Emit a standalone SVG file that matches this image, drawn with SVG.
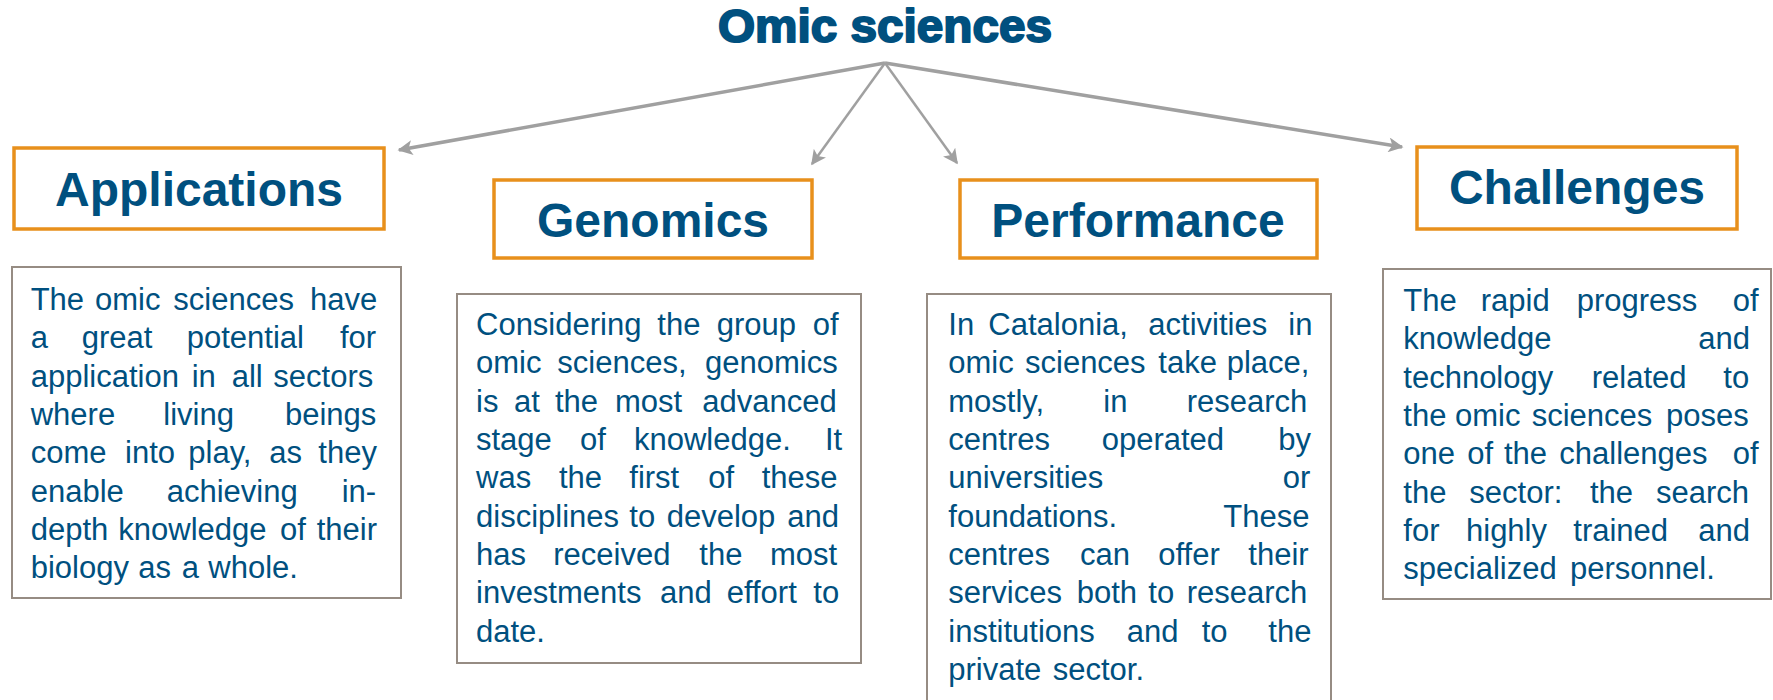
<svg xmlns="http://www.w3.org/2000/svg" width="1773" height="700" viewBox="0 0 1773 700">
<style>
.title{font-family:"Liberation Sans",Arial,sans-serif;font-weight:bold;fill:#00507F;}
.head{font-family:"Liberation Sans",Arial,sans-serif;font-weight:bold;font-size:48px;fill:#00507F;text-anchor:middle;}
.body{font-family:"Liberation Sans",Arial,sans-serif;font-size:31px;fill:#00507F;}
.hbox{fill:#FFFFFF;stroke:#E8901C;stroke-width:3.5;}
.dbox{fill:#FFFFFF;stroke:#968C83;stroke-width:2;}
.conn{stroke:#A0A0A0;fill:none;}
</style>
<defs>
<marker id="ah" viewBox="0 0 10 10" refX="9" refY="5" markerWidth="17" markerHeight="15" markerUnits="userSpaceOnUse" orient="auto">
<path d="M0,0 L10,5 L0,10 L2.5,5 z" fill="#A0A0A0"/>
</marker>
</defs>
<rect width="1773" height="700" fill="#FFFFFF"/>

<g id="title">
<text class="title" x="885" y="42" font-size="47" text-anchor="middle" stroke="#00507F" stroke-width="2" stroke-linejoin="round" textLength="334" lengthAdjust="spacingAndGlyphs">Omic sciences</text>
</g>

<g id="connectors">
<line class="conn" x1="885" y1="63" x2="399" y2="150" stroke-width="3.5" marker-end="url(#ah)"/>
<line class="conn" x1="885" y1="63" x2="812" y2="164" stroke-width="2.5" marker-end="url(#ah)"/>
<line class="conn" x1="885" y1="63" x2="957" y2="163" stroke-width="2.5" marker-end="url(#ah)"/>
<line class="conn" x1="885" y1="63" x2="1402" y2="147" stroke-width="3.5" marker-end="url(#ah)"/>
</g>

<g id="applications">
<rect class="hbox" x="14" y="148" width="370" height="81"/>
<text class="head" x="199" y="206">Applications</text>
</g>

<g id="genomics">
<rect class="hbox" x="494" y="180" width="318" height="78"/>
<text class="head" x="653" y="237">Genomics</text>
</g>

<g id="performance">
<rect class="hbox" x="960" y="180" width="357" height="78"/>
<text class="head" x="1138" y="237">Performance</text>
</g>

<g id="challenges">
<rect class="hbox" x="1417" y="147" width="320" height="82"/>
<text class="head" x="1577" y="204">Challenges</text>
</g>

<g id="applications-text">
<rect class="dbox" x="12" y="267" width="389" height="331"/>
<text class="body">
<tspan x="30.7" y="310">The</tspan><tspan x="95" y="310">omic</tspan><tspan x="173.3" y="310">sciences</tspan><tspan x="310" y="310">have</tspan>
<tspan x="30.7" y="348.3">a</tspan><tspan x="81.7" y="348.3">great</tspan><tspan x="186.7" y="348.3">potential</tspan><tspan x="340" y="348.3">for</tspan>
<tspan x="30.7" y="386.7">application</tspan><tspan x="191.7" y="386.7">in</tspan><tspan x="231.7" y="386.7">all</tspan><tspan x="273.3" y="386.7">sectors</tspan>
<tspan x="30.7" y="425">where</tspan><tspan x="163.3" y="425">living</tspan><tspan x="285" y="425">beings</tspan>
<tspan x="30.7" y="463.3">come</tspan><tspan x="125" y="463.3">into</tspan><tspan x="188.3" y="463.3">play,</tspan><tspan x="269.3" y="463.3">as</tspan><tspan x="318.3" y="463.3">they</tspan>
<tspan x="30.7" y="501.7">enable</tspan><tspan x="166.7" y="501.7">achieving</tspan><tspan x="341.7" y="501.7">in-</tspan>
<tspan x="30.7" y="540">depth</tspan><tspan x="118.3" y="540">knowledge</tspan><tspan x="280" y="540">of</tspan><tspan x="316.7" y="540">their</tspan>
<tspan x="30.7" y="578.3">biology</tspan><tspan x="138.3" y="578.3">as</tspan><tspan x="181.7" y="578.3">a</tspan><tspan x="208.3" y="578.3">whole.</tspan>
</text>
</g>

<g id="genomics-text">
<rect class="dbox" x="457" y="294" width="404" height="369"/>
<text class="body">
<tspan x="476" y="335">Considering</tspan><tspan x="657.3" y="335">the</tspan><tspan x="716.7" y="335">group</tspan><tspan x="812.7" y="335">of</tspan>
<tspan x="476" y="373.3">omic</tspan><tspan x="557.3" y="373.3">sciences,</tspan><tspan x="705" y="373.3">genomics</tspan>
<tspan x="476" y="411.7">is</tspan><tspan x="514" y="411.7">at</tspan><tspan x="555" y="411.7">the</tspan><tspan x="615" y="411.7">most</tspan><tspan x="702.3" y="411.7">advanced</tspan>
<tspan x="476" y="450">stage</tspan><tspan x="580" y="450">of</tspan><tspan x="634" y="450">knowledge.</tspan><tspan x="825" y="450">It</tspan>
<tspan x="476" y="488.3">was</tspan><tspan x="559" y="488.3">the</tspan><tspan x="629.3" y="488.3">first</tspan><tspan x="708.3" y="488.3">of</tspan><tspan x="761.7" y="488.3">these</tspan>
<tspan x="476" y="526.7">disciplines</tspan><tspan x="629.3" y="526.7">to</tspan><tspan x="666.7" y="526.7">develop</tspan><tspan x="787.3" y="526.7">and</tspan>
<tspan x="476" y="565">has</tspan><tspan x="553.3" y="565">received</tspan><tspan x="699.3" y="565">the</tspan><tspan x="770" y="565">most</tspan>
<tspan x="476" y="603.3">investments</tspan><tspan x="660" y="603.3">and</tspan><tspan x="726.7" y="603.3">effort</tspan><tspan x="813.3" y="603.3">to</tspan>
<tspan x="476" y="641.7">date.</tspan>
</text>
</g>

<g id="performance-text">
<rect class="dbox" x="927" y="294" width="404" height="420"/>
<text class="body">
<tspan x="948.3" y="335">In</tspan><tspan x="988.3" y="335">Catalonia,</tspan><tspan x="1148.3" y="335">activities</tspan><tspan x="1288.3" y="335">in</tspan>
<tspan x="948.3" y="373.3">omic</tspan><tspan x="1025" y="373.3">sciences</tspan><tspan x="1158.3" y="373.3">take</tspan><tspan x="1226.7" y="373.3">place,</tspan>
<tspan x="948.3" y="411.7">mostly,</tspan><tspan x="1103.3" y="411.7">in</tspan><tspan x="1186.7" y="411.7">research</tspan>
<tspan x="948.3" y="450">centres</tspan><tspan x="1101.7" y="450">operated</tspan><tspan x="1278.3" y="450">by</tspan>
<tspan x="948.3" y="488.3">universities</tspan><tspan x="1282.7" y="488.3">or</tspan>
<tspan x="948.3" y="526.7">foundations.</tspan><tspan x="1223.3" y="526.7">These</tspan>
<tspan x="948.3" y="565">centres</tspan><tspan x="1080" y="565">can</tspan><tspan x="1158.3" y="565">offer</tspan><tspan x="1248.3" y="565">their</tspan>
<tspan x="948.3" y="603.3">services</tspan><tspan x="1076.7" y="603.3">both</tspan><tspan x="1148.3" y="603.3">to</tspan><tspan x="1186.7" y="603.3">research</tspan>
<tspan x="948.3" y="641.7">institutions</tspan><tspan x="1126.7" y="641.7">and</tspan><tspan x="1201.7" y="641.7">to</tspan><tspan x="1268.3" y="641.7">the</tspan>
<tspan x="948.3" y="680">private</tspan><tspan x="1052.7" y="680">sector.</tspan>
</text>
</g>

<g id="challenges-text">
<rect class="dbox" x="1383" y="269" width="388" height="330"/>
<text class="body">
<tspan x="1403.3" y="311">The</tspan><tspan x="1480.7" y="311">rapid</tspan><tspan x="1576.7" y="311">progress</tspan><tspan x="1732.7" y="311">of</tspan>
<tspan x="1403.3" y="349.3">knowledge</tspan><tspan x="1698.3" y="349.3">and</tspan>
<tspan x="1403.3" y="387.7">technology</tspan><tspan x="1591.7" y="387.7">related</tspan><tspan x="1723.3" y="387.7">to</tspan>
<tspan x="1403.3" y="426">the</tspan><tspan x="1455" y="426">omic</tspan><tspan x="1531.7" y="426">sciences</tspan><tspan x="1666" y="426">poses</tspan>
<tspan x="1403.3" y="464.3">one</tspan><tspan x="1467.3" y="464.3">of</tspan><tspan x="1504" y="464.3">the</tspan><tspan x="1559.3" y="464.3">challenges</tspan><tspan x="1732.7" y="464.3">of</tspan>
<tspan x="1403.3" y="502.7">the</tspan><tspan x="1469.3" y="502.7">sector:</tspan><tspan x="1590" y="502.7">the</tspan><tspan x="1656" y="502.7">search</tspan>
<tspan x="1403.3" y="541">for</tspan><tspan x="1466" y="541">highly</tspan><tspan x="1573.3" y="541">trained</tspan><tspan x="1698.3" y="541">and</tspan>
<tspan x="1403.3" y="579.3">specialized</tspan><tspan x="1570" y="579.3">personnel.</tspan>
</text>
</g>
</svg>
